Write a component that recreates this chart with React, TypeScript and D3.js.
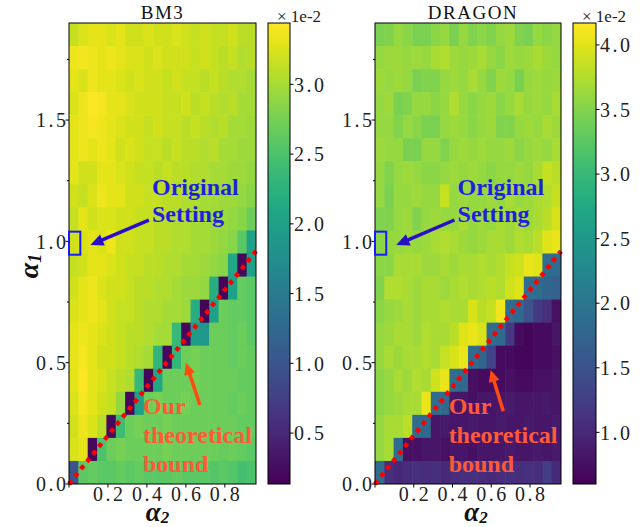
import React from "react";
import * as d3 from "d3";

const W = 642;
const H = 527;

// axis extents (alpha2 on x, alpha1 on y)
const alpha2Max = 0.96;
const alpha1Max = 1.9;

// heatmap values (x1e-2), rows listed from top (alpha1 ~ 1.9) to bottom (alpha1 = 0), 20 alpha2 columns each
const bm3Rows = [
  [3.15, 3.25, 3.3, 3.3, 3.25, 3.3, 3.2, 3.2, 3.25, 3.2, 3.2, 3.25, 3.2, 3.15, 3.2, 3.15, 3.15, 3.2, 3.1, 3.1],
  [3.35, 3.38, 3.35, 3.3, 3.35, 3.3, 3.25, 3.25, 3.2, 3.25, 3.2, 3.2, 3.2, 3.15, 3.2, 3.15, 3.1, 3.15, 3.05, 3.1],
  [3.3, 3.25, 3.35, 3.3, 3.3, 3.25, 3.2, 3.25, 3.2, 3.2, 3.15, 3.2, 3.15, 3.15, 3.1, 3.15, 3.1, 3.05, 3.05, 3.0],
  [3.25, 3.35, 3.42, 3.4, 3.3, 3.3, 3.25, 3.2, 3.2, 3.2, 3.15, 3.15, 3.2, 3.1, 3.15, 3.1, 3.05, 3.1, 3.0, 3.0],
  [3.3, 3.35, 3.4, 3.35, 3.3, 3.25, 3.2, 3.2, 3.15, 3.2, 3.15, 3.15, 3.1, 3.15, 3.1, 3.05, 3.1, 3.0, 3.0, 2.95],
  [3.3, 3.35, 3.3, 3.35, 3.3, 3.2, 3.25, 3.2, 3.15, 3.15, 3.1, 3.15, 3.1, 3.1, 3.05, 3.1, 3.0, 3.0, 2.95, 2.95],
  [3.3, 3.2, 3.2, 3.3, 3.3, 3.25, 3.2, 3.15, 3.15, 3.1, 3.15, 3.1, 3.1, 3.05, 3.05, 3.0, 3.0, 2.95, 2.95, 2.9],
  [3.2, 3.15, 3.25, 3.35, 3.3, 3.3, 3.2, 3.2, 3.15, 3.15, 3.1, 3.1, 3.05, 3.05, 3.0, 3.0, 2.95, 2.95, 2.9, 2.85],
  [3.15, 3.3, 3.2, 3.25, 3.25, 3.2, 3.2, 3.15, 3.15, 3.1, 3.1, 3.05, 3.05, 3.0, 3.0, 2.95, 2.95, 2.9, 2.85, 2.7],
  [3.2, 3.25, 3.3, 3.25, 3.35, 3.2, 3.2, 3.15, 3.15, 3.1, 3.1, 3.05, 3.05, 3.0, 3.0, 2.95, 2.9, 2.85, 2.6, 2.0],
  [3.15, 3.2, 3.3, 3.3, 3.25, 3.2, 3.15, 3.15, 3.1, 3.1, 3.05, 3.05, 3.0, 3.0, 2.95, 2.9, 2.85, 2.1, 0.2, 2.0],
  [3.2, 3.3, 3.35, 3.25, 3.2, 3.2, 3.15, 3.1, 3.1, 3.05, 3.05, 3.0, 2.95, 2.95, 2.9, 2.2, 0.18, 2.0, 2.65, 2.6],
  [3.25, 3.3, 3.35, 3.3, 3.2, 3.15, 3.15, 3.1, 3.05, 3.05, 3.0, 3.0, 2.95, 2.2, 0.17, 2.0, 2.7, 2.65, 2.65, 2.6],
  [3.3, 3.35, 3.3, 3.25, 3.2, 3.15, 3.1, 3.1, 3.05, 3.0, 3.0, 2.35, 0.2, 1.95, 1.9, 2.7, 2.7, 2.65, 2.7, 2.6],
  [3.3, 3.4, 3.3, 3.2, 3.2, 3.15, 3.1, 3.05, 3.0, 2.3, 0.2, 2.3, 2.7, 2.75, 2.7, 2.7, 2.7, 2.65, 2.7, 2.65],
  [3.3, 3.45, 3.3, 3.25, 3.15, 3.1, 3.05, 2.35, 0.18, 2.1, 2.7, 2.7, 2.7, 2.75, 2.7, 2.7, 2.7, 2.7, 2.65, 2.65],
  [3.25, 3.4, 3.3, 3.2, 3.15, 2.9, 0.2, 2.0, 2.7, 2.75, 2.7, 2.7, 2.75, 2.7, 2.7, 2.7, 2.7, 2.65, 2.7, 2.65],
  [3.2, 3.35, 3.25, 3.1, 0.2, 2.4, 2.7, 2.75, 2.7, 2.7, 2.75, 2.7, 2.7, 2.7, 2.7, 2.7, 2.7, 2.7, 2.65, 2.65],
  [3.25, 3.3, 0.2, 2.5, 2.7, 2.75, 2.7, 2.7, 2.7, 2.7, 2.75, 2.7, 2.7, 2.7, 2.7, 2.7, 2.65, 2.7, 2.65, 2.6],
  [1.0, 2.6, 2.65, 2.6, 2.6, 2.65, 2.6, 2.65, 2.6, 2.6, 2.6, 2.65, 2.6, 2.6, 2.6, 2.55, 2.6, 2.55, 2.45, 2.5],
];

const dragonRows = [
  [3.45, 3.5, 3.6, 3.55, 3.45, 3.45, 3.55, 3.6, 3.45, 3.6, 3.5, 3.55, 3.5, 3.6, 3.65, 3.5, 3.45, 3.6, 3.55, 3.6],
  [3.6, 3.65, 3.65, 3.6, 3.65, 3.6, 3.7, 3.75, 3.65, 3.6, 3.65, 3.7, 3.6, 3.55, 3.65, 3.6, 3.65, 3.7, 3.65, 3.6],
  [3.65, 3.6, 3.65, 3.6, 3.45, 3.5, 3.5, 3.6, 3.65, 3.6, 3.7, 3.6, 3.5, 3.65, 3.6, 3.45, 3.6, 3.65, 3.6, 3.65],
  [3.6, 3.65, 3.45, 3.5, 3.6, 3.6, 3.55, 3.6, 3.75, 3.6, 3.55, 3.6, 3.65, 3.55, 3.6, 3.7, 3.6, 3.65, 3.6, 3.7],
  [3.6, 3.6, 3.5, 3.6, 3.55, 3.45, 3.45, 3.6, 3.65, 3.6, 3.55, 3.6, 3.65, 3.5, 3.5, 3.6, 3.65, 3.6, 3.7, 3.65],
  [3.65, 3.6, 3.6, 3.45, 3.45, 3.6, 3.6, 3.5, 3.6, 3.65, 3.6, 3.65, 3.6, 3.6, 3.65, 3.55, 3.6, 3.65, 3.6, 3.7],
  [3.6, 3.5, 3.6, 3.65, 3.6, 3.55, 3.55, 3.6, 3.65, 3.6, 3.65, 3.6, 3.55, 3.6, 3.6, 3.65, 3.6, 3.7, 3.85, 3.8],
  [3.6, 3.45, 3.6, 3.6, 3.65, 3.6, 3.6, 3.85, 3.6, 3.65, 3.6, 3.6, 3.65, 3.6, 3.7, 3.6, 3.65, 3.7, 3.75, 3.85],
  [3.5, 3.5, 3.6, 3.65, 3.5, 3.6, 3.65, 3.6, 3.6, 3.7, 3.6, 3.65, 3.6, 3.7, 3.65, 3.7, 3.65, 3.7, 3.8, 3.95],
  [3.55, 3.6, 3.6, 3.65, 3.6, 3.65, 3.7, 3.75, 3.7, 3.65, 3.6, 3.65, 3.7, 3.7, 3.65, 3.75, 3.7, 3.8, 4.0, 4.05],
  [3.55, 3.55, 3.7, 3.7, 3.7, 3.65, 3.65, 3.7, 3.65, 3.7, 3.7, 3.75, 3.7, 3.75, 3.85, 3.9, 4.05, 4.0, 1.85, 1.85],
  [3.5, 3.75, 3.75, 3.7, 3.65, 3.7, 3.7, 3.65, 3.7, 3.75, 3.7, 3.75, 3.8, 3.75, 3.9, 4.0, 1.85, 1.85, 1.75, 1.7],
  [3.55, 3.6, 3.65, 3.7, 3.65, 3.7, 3.7, 3.75, 3.7, 3.7, 3.95, 3.8, 3.85, 4.1, 1.85, 1.8, 1.5, 1.2, 1.1, 0.75],
  [3.6, 3.65, 3.7, 3.7, 3.65, 3.75, 3.7, 3.7, 3.8, 4.0, 4.05, 3.95, 1.85, 1.8, 1.2, 0.7, 0.65, 0.7, 0.7, 0.8],
  [3.6, 3.7, 3.65, 3.7, 3.7, 3.75, 3.7, 3.85, 3.95, 4.05, 1.85, 1.75, 1.3, 0.7, 0.7, 0.65, 0.65, 0.7, 0.7, 0.75],
  [3.55, 3.6, 3.7, 3.65, 3.75, 3.7, 3.9, 4.05, 1.85, 1.8, 0.75, 0.7, 0.7, 0.7, 0.75, 0.7, 0.7, 0.75, 0.75, 0.8],
  [3.55, 3.6, 3.65, 3.7, 3.7, 4.05, 1.85, 1.8, 0.8, 0.8, 0.75, 0.8, 0.8, 0.8, 0.85, 0.8, 0.8, 0.8, 0.85, 0.8],
  [3.6, 3.7, 3.7, 3.8, 1.85, 1.8, 0.8, 0.85, 0.8, 0.8, 0.85, 0.8, 0.8, 0.85, 0.8, 0.8, 0.85, 0.8, 0.8, 0.85],
  [3.6, 3.7, 1.85, 0.75, 0.75, 0.8, 0.8, 0.75, 0.8, 0.8, 0.75, 0.8, 0.8, 0.8, 0.85, 0.8, 0.8, 0.85, 0.8, 0.85],
  [1.85, 1.1, 1.0, 1.05, 1.1, 1.05, 1.1, 1.0, 1.05, 1.1, 1.1, 1.05, 1.0, 1.05, 1.1, 1.05, 1.1, 1.05, 1.25, 1.0],
];

const bm3Range = [0.135, 3.44];
const dragonRange = [0.6, 4.17];
const bm3CbTicks = [0.5, 1.0, 1.5, 2.0, 2.5, 3.0];
const dragonCbTicks = [1.0, 1.5, 2.0, 2.5, 3.0, 3.5, 4.0];

const yMajor = [0, 0.5, 1.0, 1.5];
const yMinor = [0.25, 0.75, 1.25, 1.75];
const xTickVals = [0, 0.2, 0.4, 0.6, 0.8];
const xTickLabels = ["", "0.2", "0.4", "0.6", "0.8"];

// annotation anchors in data units [alpha2, alpha1]
const origBox = [0, 0.945, 0.058, 1.04];
const origText = [0.426, 1.19, 1.08];
const origArrow = [[0.41, 1.088], [0.11, 0.985]];
const boundText = [0.38, 0.289, 0.169, 0.049];
const bm3BoundArrow = [[0.672, 0.326], [0.6, 0.5]];
const dragonBoundArrow = [[0.662, 0.3], [0.597, 0.47]];

const TOP = 23;
const BOTTOM = 484;
const SERIF = "'Liberation Serif', 'Times New Roman', serif";
const BLUE_TXT = "#1f1fe0";
const BLUE_ARR = "#2a0fc8";
const ORANGE_TXT = "#ff5a38";
const ORANGE_ARR = "#ff4a12";

const panels = [
  { key: "bm3", title: "BM3", rows: bm3Rows, range: bm3Range, cbTicks: bm3CbTicks, left: 69, right: 256, cbLeft: 268, cbRight: 290, titleDx: 0, labelDx: -5, boundArrow: bm3BoundArrow },
  { key: "dragon", title: "DRAGON", rows: dragonRows, range: dragonRange, cbTicks: dragonCbTicks, left: 375, right: 561, cbLeft: 573, cbRight: 596, titleDx: 5, labelDx: 8, boundArrow: dragonBoundArrow },
];

function Arrow({ from, to, color, width, head, headW }) {
  const [x1, y1] = from;
  const [x2, y2] = to;
  const ang = Math.atan2(y2 - y1, x2 - x1);
  const bx = x2 - head * Math.cos(ang);
  const by = y2 - head * Math.sin(ang);
  const px = -Math.sin(ang) * headW / 2;
  const py = Math.cos(ang) * headW / 2;
  return (
    <g>
      <line x1={x1} y1={y1} x2={bx + Math.cos(ang) * 2} y2={by + Math.sin(ang) * 2} stroke={color} strokeWidth={width} />
      <polygon points={`${x2},${y2} ${bx + px},${by + py} ${bx - px},${by - py}`} fill={color} />
    </g>
  );
}

function Panel({ p }) {
  const x = d3.scaleLinear().domain([0, alpha2Max]).range([p.left, p.right]);
  const y = d3.scaleLinear().domain([0, alpha1Max]).range([BOTTOM, TOP]);
  const nRows = p.rows.length;
  const nCols = p.rows[0].length;
  const col = d3.scaleBand().domain(d3.range(nCols)).range([p.left, p.right]);
  const row = d3.scaleBand().domain(d3.range(nRows)).range([TOP, BOTTOM]);
  const color = d3.scaleSequential(d3.interpolateViridis).domain(p.range);
  const cb = d3.scaleLinear().domain(p.range).range([BOTTOM, TOP]);
  const gid = `grad-${p.key}`;
  const clip = `clip-${p.key}`;
  const stops = d3.range(0, 1.0001, 0.05);

  return (
    <g>
      <defs>
        <linearGradient id={gid} x1="0" y1="1" x2="0" y2="0">
          {stops.map((t) => (
            <stop key={t} offset={t} stopColor={d3.interpolateViridis(t)} />
          ))}
        </linearGradient>
        <clipPath id={clip}>
          <rect x={p.left} y={TOP} width={p.right - p.left} height={BOTTOM - TOP} />
        </clipPath>
      </defs>

      {/* heatmap */}
      <g clipPath={`url(#${clip})`}>
        {p.rows.map((r, i) =>
          r.map((v, j) => (
            <rect
              key={`${i}-${j}`}
              x={col(j)}
              y={row(i)}
              width={col.bandwidth() + 0.6}
              height={row.bandwidth() + 0.6}
              fill={color(v)}
            />
          ))
        )}
      </g>

      {/* theoretical bound */}
      <line
        x1={x(0)}
        y1={y(0)}
        x2={x(alpha2Max)}
        y2={y(alpha2Max)}
        stroke="#ff0000"
        strokeWidth={4.5}
        strokeDasharray="4.5 5"
      />

      <rect x={p.left} y={TOP} width={p.right - p.left} height={BOTTOM - TOP} fill="none" stroke="#000" strokeWidth={1} />

      {/* y axis */}
      {yMajor.map((v) => (
        <g key={`ym${v}`}>
          <line x1={p.left - 3.5} x2={p.left} y1={y(v)} y2={y(v)} stroke="#000" />
          <text x={p.left - 3} dx={2.5} y={y(v)} dy="0.36em" textAnchor="end" fontFamily={SERIF} fontSize={20} letterSpacing={2.5} fill="#222">
            {v.toFixed(1)}
          </text>
        </g>
      ))}
      {yMinor.map((v) => (
        <line key={`yn${v}`} x1={p.left - 2} x2={p.left} y1={y(v)} y2={y(v)} stroke="#000" />
      ))}

      {/* x axis */}
      {xTickVals.map((v, i) => (
        <g key={`x${v}`}>
          <line x1={x(v)} x2={x(v)} y1={BOTTOM} y2={BOTTOM + 3.5} stroke="#000" />
          <text x={x(v)} dx={1.25} y={BOTTOM + 17} textAnchor="middle" fontFamily={SERIF} fontSize={20} letterSpacing={2.5} fill="#222">
            {xTickLabels[i]}
          </text>
        </g>
      ))}
      <text x={(p.left + p.right) / 2 + p.labelDx} y={BOTTOM + 37} textAnchor="middle" fontFamily={SERIF} fontSize={27} fontWeight="bold" fontStyle="italic" fill="#111">
        α<tspan fontSize={17} dy={2}>2</tspan>
      </text>

      <text x={(p.left + p.right) / 2 + p.titleDx} y={18.5} textAnchor="middle" fontFamily={SERIF} fontSize={19} letterSpacing={1.5} fill="#111">
        {p.title}
      </text>

      {/* colorbar */}
      <rect x={p.cbLeft} y={TOP} width={p.cbRight - p.cbLeft} height={BOTTOM - TOP} fill={`url(#${gid})`} stroke="#000" strokeWidth={1} />
      {p.cbTicks.map((v) => (
        <g key={`c${v}`}>
          <line x1={p.cbRight} x2={p.cbRight + 3.5} y1={cb(v)} y2={cb(v)} stroke="#000" />
          <text x={p.cbRight + 4} y={cb(v)} dy="0.36em" fontFamily={SERIF} fontSize={20} letterSpacing={2.5} fill="#222">
            {v.toFixed(1)}
          </text>
        </g>
      ))}
      <text x={p.cbLeft + 9} y={21.5} fontFamily={SERIF} fontSize={17} fill="#222">
        × 1e-2
      </text>

      {/* original setting annotation */}
      <rect
        x={x(origBox[0])}
        y={y(origBox[3])}
        width={x(origBox[2]) - x(origBox[0])}
        height={y(origBox[1]) - y(origBox[3])}
        fill="none"
        stroke="#1a1aff"
        strokeWidth={2}
      />
      <Arrow from={[x(origArrow[0][0]), y(origArrow[0][1])]} to={[x(origArrow[1][0]), y(origArrow[1][1])]} color={BLUE_ARR} width={3.5} head={13} headW={12} />
      <text x={x(origText[0])} y={y(origText[1])} fontFamily={SERIF} fontSize={24} fontWeight="bold" fill={BLUE_TXT}>
        Original
      </text>
      <text x={x(origText[0])} y={y(origText[2])} fontFamily={SERIF} fontSize={24} fontWeight="bold" fill={BLUE_TXT}>
        Setting
      </text>

      {/* bound annotation */}
      <Arrow from={[x(p.boundArrow[0][0]), y(p.boundArrow[0][1])]} to={[x(p.boundArrow[1][0]), y(p.boundArrow[1][1])]} color={ORANGE_ARR} width={3.5} head={12} headW={11} />
      {["Our", "theoretical", "bound"].map((t, i) => (
        <text key={t} x={x(boundText[0])} y={y(boundText[i + 1])} fontFamily={SERIF} fontSize={24} fontWeight="bold" fill={ORANGE_TXT}>
          {t}
        </text>
      ))}
    </g>
  );
}

export default function App() {
  return (
    <svg width={W} height={H} style={{ position: "absolute", left: 0, top: 0, background: "#fff" }}>
      <rect width={W} height={H} fill="#fff" />
      {panels.map((p) => (
        <Panel key={p.key} p={p} />
      ))}
      <text transform="translate(38,266) rotate(-90)" textAnchor="middle" fontFamily={SERIF} fontSize={28} fontWeight="bold" fontStyle="italic" fill="#111">
        α<tspan fontSize={18} dy={3}>1</tspan>
      </text>
    </svg>
  );
}
